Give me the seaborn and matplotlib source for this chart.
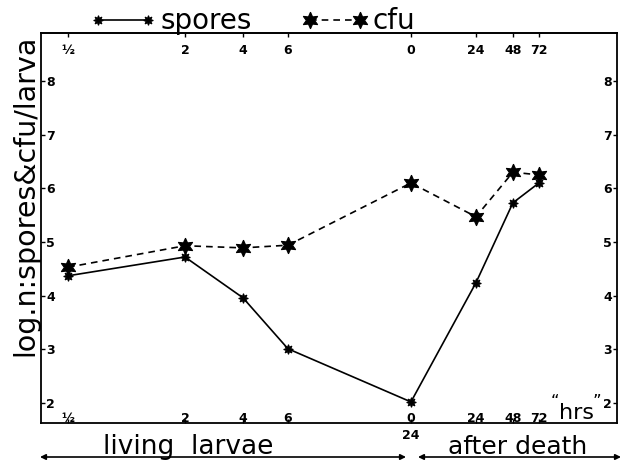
import matplotlib
matplotlib.use('Agg')
import matplotlib.pyplot as plt
import seaborn as sns

# living larvae (days) then hours after death, placed on a drawn time scale
time_labels = ['½', '2', '4', '6', '0', '24', '48', '72']
x_pos = [2.7, 14.4, 20.2, 24.7, 37.0, 43.5, 47.2, 49.8]
spores = [4.37, 4.72, 3.96, 3.01, 2.02, 4.24, 5.73, 6.10]
cfu = [4.53, 4.93, 4.89, 4.94, 6.10, 5.47, 6.30, 6.25]
y_ticks = [2, 3, 4, 5, 6, 7, 8]

sns.set_style('white')
plt.rcParams['font.family'] = ['DejaVu Sans']
plt.rcParams['text.color'] = 'black'
plt.rcParams['axes.labelcolor'] = 'black'
plt.rcParams['xtick.color'] = 'black'
plt.rcParams['ytick.color'] = 'black'

fig = plt.figure(figsize=(6.26, 4.62), dpi=100)
ax = fig.add_axes([0.0655, 0.0844, 0.92, 0.8442])

sns.lineplot(x=x_pos, y=spores, ax=ax, color='black', lw=1.2, marker=(8, 1, 0),
             markersize=7, markeredgecolor='black', label='spores')
sns.lineplot(x=x_pos, y=cfu, ax=ax, color='black', lw=1.2, linestyle=(0, (4, 3)),
             marker=(6, 1, 0), markersize=12, markeredgecolor='black', label='cfu')

ax.set_xlim(0, 57.6)
ax.set_ylim(1.627, 8.894)

ax.set_xticks(x_pos)
ax.set_xticklabels(time_labels, fontweight='bold')
ax.set_yticks(y_ticks)
ax.set_yticklabels([str(v) for v in y_ticks], fontweight='bold')
ax.tick_params(axis='x', top=False, bottom=True, labelbottom=True,
               direction='in', length=3, width=1, pad=-8, labelsize=9)
ax.tick_params(axis='y', left=True, right=True, labelleft=True, labelright=True,
               direction='in', length=3, width=1, pad=-10, labelsize=9)

# same time marks repeated along the top edge
top = ax.secondary_xaxis('top')
top.set_xticks(x_pos)
top.set_xticklabels(time_labels, fontweight='bold')
top.tick_params(direction='in', length=3, width=1, pad=-17, labelsize=9)
top.spines['top'].set_linewidth(1.3)

for sp in ax.spines.values():
    sp.set_linewidth(1.3)
    sp.set_color('black')

ax.set_xlabel('')
ax.set_ylabel('log.n:spores&cfu/larva', fontsize=20.5)
ax.yaxis.set_label_coords(-0.003, 0.585)

leg = ax.legend(loc='center left', bbox_to_anchor=(0.085, 1.03), ncol=2, frameon=False,
                numpoints=2, handlelength=2.4, handletextpad=0.15, columnspacing=1.8,
                fontsize=20, borderaxespad=0, borderpad=0)

# extra labels on the time axis
ax.annotate('24', xy=(x_pos[4], 0), xycoords=('data', 'axes fraction'),
            xytext=(0, -4), textcoords='offset points', ha='center', va='top',
            fontsize=9, fontweight='bold')
ax.text(0.929, 0.0, 'hrs', transform=ax.transAxes, ha='center', va='bottom', fontsize=16)
ax.text(0.892, 0.03, '“', transform=ax.transAxes, ha='center', va='bottom', fontsize=12)
ax.text(0.966, 0.03, '”', transform=ax.transAxes, ha='center', va='bottom', fontsize=12)

# period arrows under the axis
arrow_y = 1 - 457 / 462
ax.annotate('', xy=(40 / 626, arrow_y), xytext=(406 / 626, arrow_y), xycoords='figure fraction',
            arrowprops=dict(arrowstyle='<|-|>', lw=1.2, color='black', mutation_scale=8,
                            shrinkA=0, shrinkB=0))
ax.annotate('', xy=(418 / 626, arrow_y), xytext=(621 / 626, arrow_y), xycoords='figure fraction',
            arrowprops=dict(arrowstyle='<|-|>', lw=1.2, color='black', mutation_scale=8,
                            shrinkA=0, shrinkB=0))
fig.text(188 / 626, 1 - 454 / 462, 'living  larvae', ha='center', va='baseline', fontsize=19)
fig.text(518 / 626, 1 - 454 / 462, 'after death', ha='center', va='baseline', fontsize=18)

fig.savefig('out.png', dpi=100)
